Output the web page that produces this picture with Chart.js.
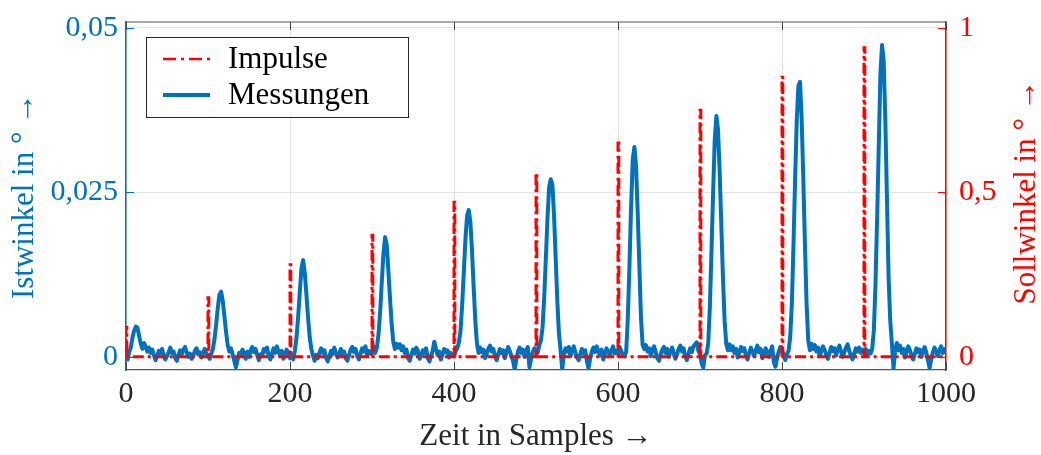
<!DOCTYPE html>
<html><head><meta charset="utf-8">
<script src="https://cdn.jsdelivr.net/npm/chart.js@4/dist/chart.umd.min.js"></script>
<style>html,body{margin:0;padding:0;background:#fff}canvas{display:block}</style>
</head><body>
<canvas id="c" width="1041" height="455"></canvas>
<script>
// ---- data ----
const sampleStep = 2; // measurement read every 2 sample indices: 0,2,...,1000
const measValues = [
  // 0..98
  0.0004, -0.0004, 0.0008, 0.0015, 0.0030, 0.0040, 0.0046, 0.0044, 0.0032, 0.0020, 0.0012, 0.0021, 0.0016, 0.0008, 0.0014, 0.0006, 0.0011,
  0.0003, -0.0005, 0.0001, 0.0009, 0.0005, 0.0012, 0.0002, -0.0004, 0.0001, 0.0007, 0.0014, 0.0006, 0.0008, -0.0002, -0.0006, 0.0003, 0.0010,
  0.0004, 0.0011, 0.0015, 0.0007, 0.0000, 0.0005, -0.0003, 0.0002, 0.0009, 0.0013, 0.0004, 0.0007, -0.0001, 0.0006, 0.0012, 0.0005,
  // 100..198
  0.0002, -0.0003, 0.0005, 0.0012, 0.0028, 0.0050, 0.0075, 0.0095, 0.0099, 0.0085, 0.0062, 0.0038, 0.0018, 0.0008,
  0.0013, 0.0004, -0.0006, -0.0016, -0.0005, 0.0006, 0.0002, 0.0011, 0.0005, -0.0003, 0.0008, 0.0000, 0.0010, 0.0015, 0.0007, 0.0012, 0.0003, -0.0005,
  0.0004, 0.0001, 0.0012, 0.0008, 0.0014, 0.0001, -0.0004, 0.0005, 0.0013, 0.0006, 0.0016, 0.0008, 0.0002, 0.0009, -0.0003, 0.0004, 0.0011, 0.0003,
  // 200..298
  -0.0002, 0.0003, -0.0004, 0.0010, 0.0030, 0.0062, 0.0100, 0.0135, 0.0147, 0.0128, 0.0095, 0.0060, 0.0030, 0.0012,
  0.0002, -0.0006, 0.0003, -0.0002, 0.0007, 0.0013, 0.0006, 0.0010, -0.0002, -0.0007, 0.0001, 0.0009, 0.0004, 0.0014, 0.0006, -0.0001, 0.0004, 0.0012,
  0.0002, 0.0008, -0.0002, -0.0006, 0.0003, 0.0011, 0.0015, 0.0007, 0.0012, 0.0001, -0.0004, 0.0005, 0.0013, 0.0008, 0.0016, 0.0003, 0.0009, 0.0005,
  // 300..398
  0.0008, 0.0016, 0.0006, 0.0014, 0.0035, 0.0070, 0.0115, 0.0158, 0.0182, 0.0170, 0.0130, 0.0088, 0.0050, 0.0022, 0.0012,
  0.0020, 0.0014, 0.0019, 0.0010, 0.0016, 0.0006, 0.0011, -0.0002, -0.0006, 0.0003, 0.0011, 0.0005, 0.0014, 0.0009, -0.0003, 0.0002, 0.0010, 0.0006,
  0.0013, -0.0002, -0.0007, 0.0001, 0.0009, 0.0023, 0.0012, 0.0003, 0.0008, -0.0004, 0.0004, 0.0012, 0.0007, 0.0010, -0.0001, 0.0006, 0.0002,
  // 400..498
  0.0001, 0.0009, 0.0013, 0.0022, 0.0040, 0.0080, 0.0130, 0.0180, 0.0215, 0.0223, 0.0205, 0.0160, 0.0105, 0.0055, 0.0020, 0.0006,
  0.0014, 0.0007, 0.0011, -0.0002, 0.0005, 0.0013, 0.0017, 0.0008, 0.0012, 0.0001, -0.0005, 0.0004, 0.0012, 0.0006, 0.0010, -0.0002, 0.0007,
  0.0015, 0.0009, 0.0001, -0.0006, -0.0019, -0.0004, 0.0008, 0.0014, 0.0006, 0.0011, 0.0000, 0.0009, 0.0015, -0.0016, -0.0003, 0.0007, 0.0013,
  // 500..598
  0.0012, 0.0006, 0.0018, 0.0025, 0.0045, 0.0090, 0.0150, 0.0210, 0.0258, 0.0270, 0.0262, 0.0215, 0.0150, 0.0085, 0.0035, 0.0010,
  -0.0019, 0.0004, 0.0013, 0.0008, 0.0015, 0.0001, 0.0009, 0.0016, 0.0007, -0.0001, -0.0005, 0.0004, 0.0012, 0.0006, 0.0010, -0.0006, -0.0017,
  -0.0003, 0.0008, 0.0014, 0.0007, 0.0016, 0.0009, 0.0002, 0.0011, -0.0004, 0.0005, 0.0013, 0.0008, 0.0001, 0.0010, 0.0016, 0.0005, 0.0009,
  // 600..698
  0.0006, 0.0015, 0.0009, 0.0002, 0.0001, 0.0008, 0.0060, 0.0140, 0.0230, 0.0300, 0.0319, 0.0290, 0.0220, 0.0140, 0.0060, 0.0018,
  0.0012, 0.0018, 0.0008, 0.0013, 0.0001, 0.0010, 0.0016, 0.0007, -0.0002, -0.0006, 0.0003, 0.0011, 0.0015, 0.0006, 0.0012, 0.0000, 0.0008,
  0.0014, 0.0005, -0.0003, 0.0004, 0.0012, 0.0017, 0.0008, 0.0013, 0.0001, -0.0005, 0.0005, 0.0013, 0.0007, 0.0016, 0.0019, 0.0022, 0.0009,
  // 700..798
  0.0004, -0.0010, -0.0016, 0.0002, 0.0005, 0.0020, 0.0075, 0.0160, 0.0250, 0.0330, 0.0366, 0.0345, 0.0280, 0.0200, 0.0120, 0.0055, 0.0020, 0.0010,
  0.0019, 0.0010, 0.0016, 0.0006, 0.0012, -0.0001, 0.0007, 0.0015, 0.0009, 0.0013, 0.0002, -0.0004, 0.0006, 0.0014, 0.0008, 0.0001,
  0.0010, 0.0017, 0.0007, 0.0012, -0.0002, 0.0004, 0.0013, 0.0008, 0.0000, 0.0009, 0.0016, -0.0008, -0.0015, -0.0002, 0.0008, 0.0015,
  // 800..898
  0.0010, 0.0003, -0.0005, 0.0004, 0.0009, 0.0030, 0.0080, 0.0170, 0.0270, 0.0360, 0.0412, 0.0418, 0.0360, 0.0270, 0.0170, 0.0080, 0.0025, 0.0010,
  0.0020, 0.0012, 0.0018, 0.0008, 0.0014, 0.0001, 0.0009, 0.0016, 0.0010, 0.0003, -0.0003, 0.0006, 0.0015, 0.0009, 0.0013, 0.0002,
  0.0011, 0.0017, 0.0008, 0.0000, 0.0007, 0.0014, 0.0019, 0.0009, 0.0002, -0.0004, 0.0005, 0.0013, 0.0008, 0.0014, 0.0006, 0.0011,
  // 900..998
  0.0006, 0.0012, 0.0004, 0.0009, 0.0005, 0.0012, 0.0040, 0.0110, 0.0210, 0.0320, 0.0430, 0.0474, 0.0450, 0.0360, 0.0240, 0.0120, 0.0055, 0.0020, -0.0018, 0.0010,
  0.0021, 0.0010, 0.0017, 0.0006, 0.0012, -0.0001, 0.0008, 0.0016, 0.0010, 0.0002, -0.0004, 0.0005, 0.0013, 0.0007, 0.0011,
  0.0000, 0.0009, 0.0015, 0.0006, -0.0005, -0.0017, -0.0004, 0.0007, 0.0014, 0.0008, 0.0001, 0.0010, 0.0016, 0.0006, 0.0012,
  // 1000
  0.0007
];
const impulseSamples = [0, 100, 200, 300, 400, 500, 600, 700, 800, 900];
const impulseAmps    = [0.09, 0.18, 0.28, 0.37, 0.47, 0.56, 0.65, 0.75, 0.85, 0.94];
const xTicks  = [0, 200, 400, 600, 800, 1000];
const yTicks  = [0, 0.025, 0.05];
const y2Ticks = [0, 0.5, 1];
const seriesNames = ['Impulse', 'Messungen'];

// ---- build datasets ----
const measData = measValues.map((v, i) => ({ x: i * sampleStep, y: v }));
const impData = [];
impulseSamples.forEach((t, k) => {
  impData.push({ x: t, y: 0 }, { x: t, y: impulseAmps[k] }, { x: t + 1, y: impulseAmps[k] }, { x: t + 1, y: 0 });
});
impData.push({ x: 1000, y: 0 });

const BLUE = '#0072BD', RED = '#FF0000', DARK = '#262626';
const FONT = 'Liberation Serif';
Chart.defaults.font.family = FONT;
const fmt = v => String(v).replace('.', ',');
const DASH = [11, 4, 3, 4];

const framePlugin = {
  id: 'frame',
  afterDatasetsDraw(chart) {
    const { ctx, chartArea: a, scales } = chart;
    ctx.save();
    ctx.strokeStyle = '#555'; ctx.lineWidth = 1.2;
    ctx.beginPath(); ctx.moveTo(a.left, a.top); ctx.lineTo(a.right, a.top); ctx.stroke();
    const tl = 8;
    ctx.strokeStyle = '#444'; ctx.lineWidth = 1;
    xTicks.forEach(v => {
      const px = Math.round(scales.x.getPixelForValue(v)) + 0.5;
      ctx.beginPath(); ctx.moveTo(px, a.bottom); ctx.lineTo(px, a.bottom - tl); ctx.stroke();
      ctx.beginPath(); ctx.moveTo(px, a.top); ctx.lineTo(px, a.top + tl); ctx.stroke();
    });
    ctx.strokeStyle = BLUE;
    yTicks.forEach(v => {
      const py = Math.round(scales.y.getPixelForValue(v)) + 0.5;
      ctx.beginPath(); ctx.moveTo(a.left, py); ctx.lineTo(a.left + tl, py); ctx.stroke();
    });
    ctx.strokeStyle = RED;
    y2Ticks.forEach(v => {
      const py = Math.round(scales.y2.getPixelForValue(v)) + 0.5;
      ctx.beginPath(); ctx.moveTo(a.right, py); ctx.lineTo(a.right - tl, py); ctx.stroke();
    });
    // legend box
    const lx = 146, ly = 37, lw = 262, lh = 80;
    ctx.fillStyle = '#fff'; ctx.fillRect(lx, ly, lw, lh);
    ctx.strokeStyle = '#262626'; ctx.lineWidth = 1;
    ctx.strokeRect(lx + 0.5, ly + 0.5, lw, lh);
    ctx.lineWidth = 2.5; ctx.strokeStyle = RED; ctx.setLineDash([13, 5, 3, 5]);
    ctx.beginPath(); ctx.moveTo(163, 59); ctx.lineTo(210, 59); ctx.stroke();
    ctx.setLineDash([]); ctx.lineWidth = 4; ctx.strokeStyle = BLUE;
    ctx.beginPath(); ctx.moveTo(163, 95); ctx.lineTo(210, 95); ctx.stroke();
    ctx.fillStyle = '#000'; ctx.font = '31px "' + FONT + '"';
    ctx.textBaseline = 'alphabetic'; ctx.textAlign = 'left';
    ctx.fillText(seriesNames[0], 228, 68);
    ctx.fillText(seriesNames[1], 228, 104);
    // right axis title (reads bottom to top)
    ctx.translate(1027, 192); ctx.rotate(-Math.PI / 2);
    ctx.fillStyle = RED; ctx.font = '31px "' + FONT + '"';
    ctx.textAlign = 'center'; ctx.textBaseline = 'middle';
    ctx.fillText('Sollwinkel in ° →', 0, 0);
    ctx.restore();
  }
};

new Chart(document.getElementById('c'), {
  type: 'line',
  data: {
    datasets: [
      { label: seriesNames[0], data: impData, yAxisID: 'y2', borderColor: RED, borderWidth: 3,
        borderDash: DASH, pointRadius: 0, tension: 0, fill: false },
      { label: seriesNames[1], data: measData, yAxisID: 'y', borderColor: BLUE, borderWidth: 4,
        pointRadius: 0, tension: 0, fill: false, borderJoinStyle: 'round', borderCapStyle: 'round' }
    ]
  },
  options: {
    responsive: false, animation: false,
    layout: { padding: { top: 22, left: 0, right: 0, bottom: 0 } },
    plugins: { legend: { display: false }, tooltip: { enabled: false } },
    scales: {
      x: {
        type: 'linear', position: 'bottom', min: 0, max: 1000,
        afterFit(s) { s.height = 85; s.paddingLeft = 0; s.paddingRight = 0; },
        afterBuildTicks(s) { s.ticks = xTicks.map(v => ({ value: v })); },
        ticks: { callback: v => String(v), color: DARK, font: { size: 30 }, padding: 6, maxRotation: 0 },
        grid: { color: '#e3e3e3', lineWidth: 1, drawTicks: false },
        border: { color: '#555', width: 1.2 },
        title: { display: true, text: 'Zeit in Samples →', color: DARK, font: { size: 31 }, padding: 0 }
      },
      y: {
        type: 'linear', position: 'left', min: -0.002, max: 0.0509,
        afterFit(s) { s.width = 126; s.paddingTop = 0; s.paddingBottom = 0; },
        afterBuildTicks(s) { s.ticks = yTicks.map(v => ({ value: v })); },
        ticks: { callback: v => fmt(v), color: BLUE, font: { size: 30 }, padding: 8 },
        grid: { color: '#e3e3e3', lineWidth: 1, drawTicks: false },
        border: { color: BLUE, width: 1.5 },
        title: { display: true, text: 'Istwinkel in ° →', color: BLUE, font: { size: 31 }, padding: { top: 6, bottom: 0 } }
      },
      y2: {
        type: 'linear', position: 'right', min: -0.04, max: 1.018,
        afterFit(s) { s.width = 95; s.paddingTop = 0; s.paddingBottom = 0; },
        afterBuildTicks(s) { s.ticks = y2Ticks.map(v => ({ value: v })); },
        ticks: { callback: v => fmt(v), color: RED, font: { size: 30 }, padding: 13 },
        grid: { drawOnChartArea: false, drawTicks: false },
        border: { color: RED, width: 1.5 }
      }
    }
  },
  plugins: [framePlugin]
});
</script>
</body></html>
